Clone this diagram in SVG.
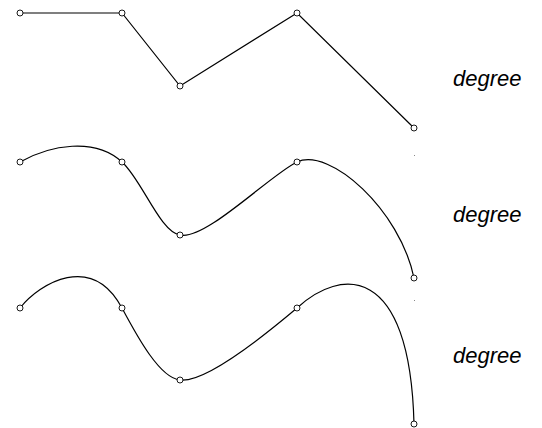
<svg xmlns="http://www.w3.org/2000/svg" width="542" height="428" viewBox="0 0 542 428">
<style>
.crv{fill:none;stroke:#000;stroke-width:1.2}
.pt{fill:#fff;stroke:#000;stroke-width:0.9}
.lbl{font-family:"Liberation Sans",Arial,sans-serif;font-style:italic;font-size:22px;fill:#000}
.dot{fill:#888}
</style>
<rect width="542" height="428" fill="#fff"/>
<g id="connectors">
<path class="crv" d="M20,13 L122,13 L180,86 L297,13 L414,128"/>
<path class="crv" d="M20,162 C50,145 95,137 122,162 C142,180 160,232 180,235 C205,241 270,175 297,162 C330,147 400,210 414,278"/>
<path class="crv" d="M20,308 C40,283 92,252 122,308 C138,338 160,378 180,380 C205,383 265,335 297,308 C340,268 410,262 414,424"/>
</g>
<g id="degree1">
<circle class="pt" cx="20" cy="13" r="3"/><circle class="pt" cx="122" cy="13" r="3"/><circle class="pt" cx="180" cy="86" r="3"/><circle class="pt" cx="297" cy="13" r="3"/><circle class="pt" cx="414" cy="128" r="3"/>
<text class="lbl" x="453" y="86">degree</text>
</g>
<g id="degree2">
<circle class="pt" cx="20" cy="162" r="3"/><circle class="pt" cx="122" cy="162" r="3"/><circle class="pt" cx="180" cy="235" r="3"/><circle class="pt" cx="297" cy="162" r="3"/><circle class="pt" cx="414" cy="278" r="3"/>
<text class="lbl" x="453" y="222">degree</text>
</g>
<g id="degree3">
<circle class="pt" cx="20" cy="308" r="3"/><circle class="pt" cx="122" cy="308" r="3"/><circle class="pt" cx="180" cy="380" r="3"/><circle class="pt" cx="297" cy="308" r="3"/><circle class="pt" cx="414" cy="424" r="3"/>
<text class="lbl" x="453" y="363">degree</text>
</g>
<rect class="dot" x="414" y="155" width="1" height="1"/>
<rect class="dot" x="414" y="300" width="1" height="1"/>
</svg>
